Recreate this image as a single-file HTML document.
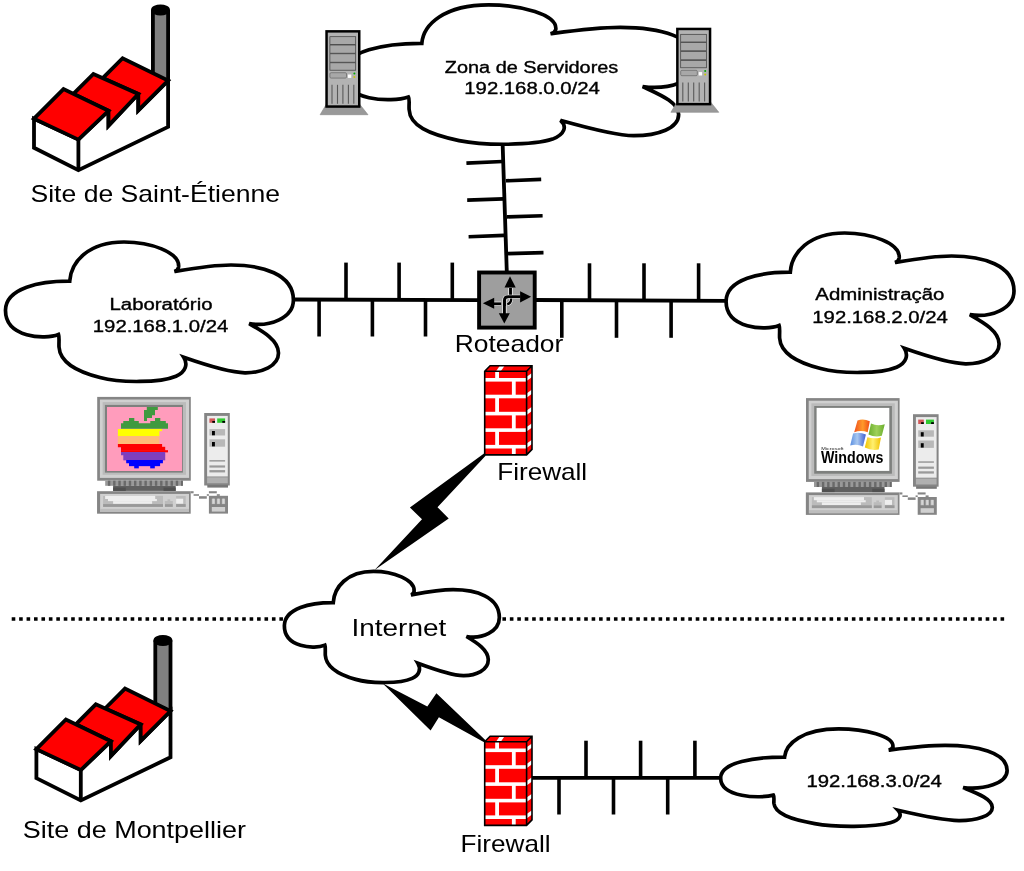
<!DOCTYPE html>
<html><head><meta charset="utf-8"><title>Network diagram</title><style>html,body{margin:0;padding:0;background:#fff;}svg{display:block;will-change:transform;}text{font-family:"Liberation Sans",sans-serif;}</style></head><body>
<svg width="1024" height="871" viewBox="0 0 1024 871" font-family="Liberation Sans, sans-serif">
<rect width="1024" height="871" fill="#fff"/>
<line x1="11.7" y1="619" x2="1005" y2="619" stroke="#000" stroke-width="3.6" stroke-dasharray="3.6 3.835"/>
<g stroke="#000" stroke-width="3.8" fill="none">
<line x1="292" y1="299.5" x2="479" y2="300.1"/>
<line x1="535" y1="300" x2="727" y2="300.8"/>
<line x1="502.5" y1="140" x2="506.8" y2="272"/>
<line x1="528" y1="777.8" x2="722" y2="777.8"/>
</g>
<g stroke="#000" stroke-width="3.6" fill="none">
<line x1="346" y1="262.6" x2="346" y2="299.6"/>
<line x1="399.1" y1="262.6" x2="399.1" y2="299.6"/>
<line x1="452.3" y1="262.6" x2="452.3" y2="299.6"/>
<line x1="319.1" y1="299.6" x2="319.1" y2="336.5"/>
<line x1="372.4" y1="299.6" x2="372.4" y2="336.5"/>
<line x1="425.5" y1="299.6" x2="425.5" y2="336.5"/>
<line x1="589.5" y1="263.3" x2="589.5" y2="300.5"/>
<line x1="644" y1="263.3" x2="644" y2="300.5"/>
<line x1="698.6" y1="263.3" x2="698.6" y2="300.5"/>
<line x1="561.8" y1="300" x2="561.8" y2="337.8"/>
<line x1="616.5" y1="300" x2="616.5" y2="337.8"/>
<line x1="671.1" y1="300" x2="671.1" y2="337.8"/>
<line x1="586" y1="740.7" x2="586" y2="777.8"/>
<line x1="640.6" y1="740.7" x2="640.6" y2="777.8"/>
<line x1="694.9" y1="740.7" x2="694.9" y2="777.8"/>
<line x1="559" y1="777.8" x2="559" y2="814.5"/>
<line x1="613.5" y1="777.8" x2="613.5" y2="814.5"/>
<line x1="667.7" y1="777.8" x2="667.7" y2="814.5"/>
<line x1="466.4" y1="163.1" x2="502.5" y2="161.5"/>
<line x1="505.9" y1="180.8" x2="541.2" y2="179.4"/>
<line x1="467.2" y1="200.1" x2="503.4" y2="198.9"/>
<line x1="506.8" y1="216.9" x2="542.6" y2="215.7"/>
<line x1="468.6" y1="236.7" x2="504.2" y2="235.4"/>
<line x1="507.7" y1="253.6" x2="543.5" y2="252.6"/>
</g>
<path d="M 421.83 43.28 C 423.43 24.46 444.34 4.86 488.62 4.86 C 520.60 4.86 557.50 14.66 555.78 29.36 C 555.04 32.30 552.58 33.28 550.49 33.77 C 575.95 30.34 596.86 27.40 620.23 27.40 C 658.36 27.40 696.98 36.22 696.98 62.68 C 696.98 81.30 668.20 90.12 642.62 86.59 C 658.36 94.04 678.65 101.88 678.65 114.62 C 678.65 128.34 658.36 135.69 633.76 135.69 C 614.08 135.49 582.10 126.38 560.45 120.30 C 567.34 126.38 564.88 134.22 552.58 139.12 C 532.90 145.69 483.70 145.69 459.10 140.59 C 428.35 134.22 409.90 125.40 409.16 109.72 C 408.67 104.82 409.90 99.43 408.42 96.98 C 391.45 102.86 342.25 100.90 342.87 73.46 C 343.48 50.92 385.30 43.08 421.83 43.28 Z" fill="#fff" stroke="#000" stroke-width="3.7"/>
<path d="M 69.70 281.20 C 71.00 262.00 88.00 242.00 124.00 242.00 C 150.00 242.00 180.00 252.00 178.60 267.00 C 178.00 270.00 176.00 271.00 174.30 271.50 C 195.00 268.00 212.00 265.00 231.00 265.00 C 262.00 265.00 293.40 274.00 293.40 300.00 C 293.40 318.00 270.00 327.00 249.20 323.70 C 262.00 331.00 278.50 340.00 278.50 353.00 C 278.50 366.00 262.00 373.00 244.90 372.80 C 228.00 372.60 200.00 363.00 183.70 357.30 C 188.00 364.00 186.00 372.00 176.00 376.20 C 160.00 383.00 120.00 383.00 100.00 377.50 C 75.00 371.00 60.00 362.00 59.00 347.00 C 58.80 342.00 59.50 337.00 58.50 334.50 C 45.00 340.00 5.00 338.00 5.50 310.00 C 6.00 288.00 40.00 281.00 69.70 281.20 Z" fill="#fff" stroke="#000" stroke-width="3.7"/>
<path d="M 790.30 272.20 C 791.60 253.00 808.60 233.00 844.60 233.00 C 870.60 233.00 900.60 243.00 899.20 258.00 C 898.60 261.00 896.60 262.00 894.90 262.50 C 915.60 259.00 932.60 256.00 951.60 256.00 C 982.60 256.00 1014.00 265.00 1014.00 291.00 C 1014.00 309.00 990.60 318.00 969.80 314.70 C 982.60 322.00 999.10 331.00 999.10 344.00 C 999.10 357.00 982.60 364.00 965.50 363.80 C 948.60 363.60 920.60 354.00 904.30 348.30 C 908.60 355.00 906.60 363.00 896.60 367.20 C 880.60 374.00 840.60 374.00 820.60 368.50 C 795.60 362.00 780.60 353.00 779.60 338.00 C 779.40 333.00 780.10 328.00 779.10 325.50 C 765.60 331.00 725.60 329.00 726.10 301.00 C 726.60 279.00 760.60 272.00 790.30 272.20 Z" fill="#fff" stroke="#000" stroke-width="3.7"/>
<path d="M 333.25 602.62 C 334.22 587.31 346.84 571.37 373.57 571.37 C 392.88 571.37 415.15 579.34 414.11 591.30 C 413.67 593.69 412.18 594.49 410.92 594.89 C 426.29 592.10 438.91 589.71 453.02 589.71 C 476.04 589.71 499.35 596.88 499.35 617.60 C 499.35 631.95 481.98 639.12 466.53 636.49 C 476.04 642.31 488.29 649.48 488.29 659.84 C 488.29 670.20 476.04 675.78 463.34 675.62 C 450.79 675.46 430.00 667.81 417.90 663.27 C 421.09 668.61 419.61 674.98 412.18 678.33 C 400.30 683.75 370.60 683.75 355.75 679.37 C 337.19 674.19 326.05 667.01 325.29 655.06 C 325.13 651.07 325.67 647.09 324.90 645.10 C 314.58 649.48 283.99 647.89 284.37 625.57 C 284.75 608.04 310.75 602.46 333.25 602.62 Z" fill="#fff" stroke="#000" stroke-width="3.7"/>
<path d="M 784.55 757.08 C 785.85 743.28 802.76 728.90 838.58 728.90 C 864.45 728.90 894.30 736.09 892.91 746.87 C 892.31 749.03 890.32 749.75 888.63 750.11 C 909.23 747.59 926.14 745.43 945.05 745.43 C 975.89 745.43 1007.13 751.91 1007.13 770.60 C 1007.13 783.54 983.85 790.01 963.15 787.64 C 975.89 792.83 992.31 798.80 992.31 807.42 C 992.31 816.04 975.89 820.68 958.88 820.54 C 942.06 820.41 914.20 814.05 897.98 810.27 C 902.26 814.71 900.27 820.01 890.32 822.80 C 874.40 827.30 834.60 827.30 814.70 823.66 C 789.83 819.35 774.90 813.38 773.91 803.44 C 773.71 800.13 774.40 796.81 773.41 795.15 C 759.98 798.80 720.18 797.47 720.67 777.79 C 721.17 761.97 755.00 756.94 784.55 757.08 Z" fill="#fff" stroke="#000" stroke-width="3.7"/>
<g transform="translate(0,0)">
<polygon points="326.6,103.8 359.3,103.8 368,114.7 320.1,114.7" fill="#999" stroke="#888" stroke-width="0.6"/>
<rect x="325.3" y="30.1" width="35.2" height="77.7" fill="#000"/>
<rect x="327.8" y="32.6" width="30.2" height="72.7" fill="#b3b3b3"/>
<rect x="329.9" y="36.699999999999996" width="25.8" height="7.700000000000005" fill="#a8a8a8" stroke="#3a3a3a" stroke-width="0.7"/>
<rect x="329.9" y="45.0" width="25.8" height="8.199999999999998" fill="#a8a8a8" stroke="#3a3a3a" stroke-width="0.7"/>
<rect x="329.9" y="53.8" width="25.8" height="8.4" fill="#a8a8a8" stroke="#3a3a3a" stroke-width="0.7"/>
<rect x="329.9" y="62.8" width="25.8" height="7.4" fill="#a8a8a8" stroke="#3a3a3a" stroke-width="0.7"/>
<rect x="329.9" y="72.7" width="16.6" height="5.4" rx="1.2" fill="#a8a8a8" stroke="#666" stroke-width="0.7"/>
<rect x="347.9" y="74.5" width="3.4" height="3.4" fill="#fff"/>
<circle cx="354.4" cy="73.4" r="1" fill="#0a0"/>
<circle cx="354.4" cy="77" r="1" fill="#cc0"/>
<line x1="332" y1="84.8" x2="332" y2="103.8" stroke="#5a5a5a" stroke-width="1.1"/>
<line x1="337.5" y1="84.8" x2="337.5" y2="103.8" stroke="#5a5a5a" stroke-width="1.1"/>
<line x1="342.9" y1="84.8" x2="342.9" y2="103.8" stroke="#5a5a5a" stroke-width="1.1"/>
<line x1="348.4" y1="84.8" x2="348.4" y2="103.8" stroke="#5a5a5a" stroke-width="1.1"/>
<line x1="353.8" y1="84.8" x2="353.8" y2="103.8" stroke="#5a5a5a" stroke-width="1.1"/>
</g>
<g transform="translate(350.8,-2.4)">
<polygon points="326.6,103.8 359.3,103.8 368,114.7 320.1,114.7" fill="#999" stroke="#888" stroke-width="0.6"/>
<rect x="325.3" y="30.1" width="35.2" height="77.7" fill="#000"/>
<rect x="327.8" y="32.6" width="30.2" height="72.7" fill="#b3b3b3"/>
<rect x="329.9" y="36.699999999999996" width="25.8" height="7.700000000000005" fill="#a8a8a8" stroke="#3a3a3a" stroke-width="0.7"/>
<rect x="329.9" y="45.0" width="25.8" height="8.199999999999998" fill="#a8a8a8" stroke="#3a3a3a" stroke-width="0.7"/>
<rect x="329.9" y="53.8" width="25.8" height="8.4" fill="#a8a8a8" stroke="#3a3a3a" stroke-width="0.7"/>
<rect x="329.9" y="62.8" width="25.8" height="7.4" fill="#a8a8a8" stroke="#3a3a3a" stroke-width="0.7"/>
<rect x="329.9" y="72.7" width="16.6" height="5.4" rx="1.2" fill="#a8a8a8" stroke="#666" stroke-width="0.7"/>
<rect x="347.9" y="74.5" width="3.4" height="3.4" fill="#fff"/>
<circle cx="354.4" cy="73.4" r="1" fill="#0a0"/>
<circle cx="354.4" cy="77" r="1" fill="#cc0"/>
<line x1="332" y1="84.8" x2="332" y2="103.8" stroke="#5a5a5a" stroke-width="1.1"/>
<line x1="337.5" y1="84.8" x2="337.5" y2="103.8" stroke="#5a5a5a" stroke-width="1.1"/>
<line x1="342.9" y1="84.8" x2="342.9" y2="103.8" stroke="#5a5a5a" stroke-width="1.1"/>
<line x1="348.4" y1="84.8" x2="348.4" y2="103.8" stroke="#5a5a5a" stroke-width="1.1"/>
<line x1="353.8" y1="84.8" x2="353.8" y2="103.8" stroke="#5a5a5a" stroke-width="1.1"/>
</g>
<rect x="479.1" y="272.5" width="55.6" height="55.1" fill="#9e9e9e" stroke="#000" stroke-width="3.9"/>
<g fill="none" stroke-linecap="butt" stroke-linejoin="round">
<path d="M510.5,288 V297" stroke="#fff" stroke-width="4.2"/>
<path d="M510.5,288 V297" stroke="#000" stroke-width="2.9"/>
<path d="M494,303.8 H501.2" stroke="#fff" stroke-width="4.2"/>
<path d="M494,303.8 H501.2" stroke="#000" stroke-width="2.9"/>
<path d="M520.5,296.8 H508.3 Q504.4,296.8 504.4,300.7 V314" stroke="#fff" stroke-width="4.2"/>
<path d="M520.5,296.8 H508.3 Q504.4,296.8 504.4,300.7 V314" stroke="#000" stroke-width="2.9"/>
<path d="M511.3,298.4 Q511.4,303.4 507.2,304.2" stroke="#fff" stroke-width="3.4"/>
<path d="M511.3,298.4 Q511.4,303.4 507.2,304.2" stroke="#000" stroke-width="2.2"/>
<path d="M504.4,300 V306" stroke="#000" stroke-width="2.9"/>
</g>
<polygon points="510,276.3 515.7,287.6 504.5,287.6" fill="#000"/>
<polygon points="531.1,296.7 520.1,291.2 520.1,302.4" fill="#000"/>
<polygon points="482.9,303.2 494.2,297.7 494.2,308.7" fill="#000"/>
<polygon points="504.3,323.4 498.8,313.3 509.8,313.3" fill="#000"/>
<polygon points="484,453.6 485.6,455.8 437.5,507.2 448.7,518.4 374.6,570 422,519.2 409.9,507.5" fill="#000"/>
<polygon points="382.5,683.3 427.3,706.5 436.4,693.2 485.5,740.2 484.6,742.5 438.9,717.3 430.6,730.6" fill="#000"/>
<g transform="translate(0,0)">
<polygon points="484.7,371.3 490.09999999999997,365.8 532.0,365.8 526.6,371.3" fill="#f00"/>
<polygon points="496.0,371.3 499.8,365.8 504.59999999999997,365.8 500.8,371.3" fill="#fff"/>
<polygon points="526.6,371.3 532.0,365.8 532.0,449.4 526.6,454.9" fill="#f00"/>
<polygon points="526.6,376.7 532.0,372.90000000000003 532.0,377.1 526.6,381.1" fill="#fff"/>
<polygon points="526.6,393.4 532.0,389.6 532.0,393.8 526.6,397.8" fill="#fff"/>
<polygon points="526.6,410.5 532.0,406.70000000000005 532.0,410.90000000000003 526.6,414.90000000000003" fill="#fff"/>
<polygon points="526.6,427.0 532.0,423.20000000000005 532.0,427.40000000000003 526.6,431.40000000000003" fill="#fff"/>
<polygon points="526.6,443.59999999999997 532.0,439.8 532.0,444.0 526.6,448.0" fill="#fff"/>
<rect x="484.7" y="371.3" width="41.900000000000034" height="83.59999999999997" fill="#f00"/>
<rect x="484.7" y="378.0" width="41.900000000000034" height="3.6" fill="#fff"/>
<rect x="484.7" y="394.7" width="41.900000000000034" height="3.6" fill="#fff"/>
<rect x="484.7" y="411.8" width="41.900000000000034" height="3.6" fill="#fff"/>
<rect x="484.7" y="428.3" width="41.900000000000034" height="3.6" fill="#fff"/>
<rect x="484.7" y="444.9" width="41.900000000000034" height="3.6" fill="#fff"/>
<rect x="495.20000000000005" y="371.3" width="3.8" height="8.5" fill="#fff"/>
<rect x="511.9" y="379.8" width="3.8" height="16.69999999999999" fill="#fff"/>
<rect x="495.20000000000005" y="396.5" width="3.8" height="17.100000000000023" fill="#fff"/>
<rect x="511.9" y="413.6" width="3.8" height="16.5" fill="#fff"/>
<rect x="495.20000000000005" y="430.1" width="3.8" height="16.599999999999966" fill="#fff"/>
<rect x="511.9" y="446.7" width="3.8" height="8.199999999999989" fill="#fff"/>
<path d="M484.7,371.3 L490.09999999999997,365.8 L532.0,365.8 L532.0,449.4 L526.6,454.9 L484.7,454.9 Z M484.7,371.3 L526.6,371.3 L526.6,454.9 M526.6,371.3 L532.0,365.8" fill="none" stroke="#000" stroke-width="1.6" stroke-linejoin="miter"/>
</g>
<g transform="translate(0,370.5)">
<polygon points="484.7,371.3 490.09999999999997,365.8 532.0,365.8 526.6,371.3" fill="#f00"/>
<polygon points="496.0,371.3 499.8,365.8 504.59999999999997,365.8 500.8,371.3" fill="#fff"/>
<polygon points="526.6,371.3 532.0,365.8 532.0,449.4 526.6,454.9" fill="#f00"/>
<polygon points="526.6,376.7 532.0,372.90000000000003 532.0,377.1 526.6,381.1" fill="#fff"/>
<polygon points="526.6,393.4 532.0,389.6 532.0,393.8 526.6,397.8" fill="#fff"/>
<polygon points="526.6,410.5 532.0,406.70000000000005 532.0,410.90000000000003 526.6,414.90000000000003" fill="#fff"/>
<polygon points="526.6,427.0 532.0,423.20000000000005 532.0,427.40000000000003 526.6,431.40000000000003" fill="#fff"/>
<polygon points="526.6,443.59999999999997 532.0,439.8 532.0,444.0 526.6,448.0" fill="#fff"/>
<rect x="484.7" y="371.3" width="41.900000000000034" height="83.59999999999997" fill="#f00"/>
<rect x="484.7" y="378.0" width="41.900000000000034" height="3.6" fill="#fff"/>
<rect x="484.7" y="394.7" width="41.900000000000034" height="3.6" fill="#fff"/>
<rect x="484.7" y="411.8" width="41.900000000000034" height="3.6" fill="#fff"/>
<rect x="484.7" y="428.3" width="41.900000000000034" height="3.6" fill="#fff"/>
<rect x="484.7" y="444.9" width="41.900000000000034" height="3.6" fill="#fff"/>
<rect x="495.20000000000005" y="371.3" width="3.8" height="8.5" fill="#fff"/>
<rect x="511.9" y="379.8" width="3.8" height="16.69999999999999" fill="#fff"/>
<rect x="495.20000000000005" y="396.5" width="3.8" height="17.100000000000023" fill="#fff"/>
<rect x="511.9" y="413.6" width="3.8" height="16.5" fill="#fff"/>
<rect x="495.20000000000005" y="430.1" width="3.8" height="16.599999999999966" fill="#fff"/>
<rect x="511.9" y="446.7" width="3.8" height="8.199999999999989" fill="#fff"/>
<path d="M484.7,371.3 L490.09999999999997,365.8 L532.0,365.8 L532.0,449.4 L526.6,454.9 L484.7,454.9 Z M484.7,371.3 L526.6,371.3 L526.6,454.9 M526.6,371.3 L532.0,365.8" fill="none" stroke="#000" stroke-width="1.6" stroke-linejoin="miter"/>
</g>
<g transform="translate(0,0)" stroke="#000" stroke-width="3.8" stroke-linejoin="miter" stroke-miterlimit="10">
<rect x="152.9" y="10" width="15.2" height="68" fill="#808080" stroke="none"/>
<line x1="152.9" y1="10" x2="152.9" y2="78"/>
<line x1="168.1" y1="10" x2="168.1" y2="80"/>
<ellipse cx="160.5" cy="10" rx="7.6" ry="3.6" fill="#000"/>
<polygon points="34,118.7 34,147.8 78.4,170.1 168.1,126.9 168.1,80.6 138.3,110.4 138.3,94 108.5,125.6 108.5,110.8 78.4,139.6" fill="#fff"/>
<polygon points="102.7,78.1 122.6,58.2 168.1,80.6 138.3,110.4 138.3,94" fill="#f00"/>
<polygon points="73.4,93.9 93.4,73.9 138.3,94 108.5,125.6 108.5,110.8" fill="#f00"/>
<polygon points="34,118.7 63.5,89.1 108.5,110.8 78.4,139.6" fill="#f00"/>
<line x1="78.4" y1="139.6" x2="78.4" y2="170.1"/>
</g>
<g transform="translate(2.4,630.4)" stroke="#000" stroke-width="3.8" stroke-linejoin="miter" stroke-miterlimit="10">
<rect x="152.9" y="10" width="15.2" height="68" fill="#808080" stroke="none"/>
<line x1="152.9" y1="10" x2="152.9" y2="78"/>
<line x1="168.1" y1="10" x2="168.1" y2="80"/>
<ellipse cx="160.5" cy="10" rx="7.6" ry="3.6" fill="#000"/>
<polygon points="34,118.7 34,147.8 78.4,170.1 168.1,126.9 168.1,80.6 138.3,110.4 138.3,94 108.5,125.6 108.5,110.8 78.4,139.6" fill="#fff"/>
<polygon points="102.7,78.1 122.6,58.2 168.1,80.6 138.3,110.4 138.3,94" fill="#f00"/>
<polygon points="73.4,93.9 93.4,73.9 138.3,94 108.5,125.6 108.5,110.8" fill="#f00"/>
<polygon points="34,118.7 63.5,89.1 108.5,110.8 78.4,139.6" fill="#f00"/>
<line x1="78.4" y1="139.6" x2="78.4" y2="170.1"/>
</g>
<g transform="translate(0,0)">
<rect x="97.2" y="396.9" width="93.6" height="83.8" fill="#858585"/>
<rect x="99.9" y="399.5" width="89.2" height="78.4" fill="#d0d0d0"/>
<rect x="102.6" y="402.1" width="83.4" height="72.7" fill="#bbbbbb"/>
<rect x="104.9" y="404.9" width="78.0" height="67.7" fill="#7e807e"/>
<rect x="107.0" y="407.0" width="75.05" height="64.0" fill="#ff9cbc"/>
<polygon points="146.8,407 157.8,407 157.8,410.1 155,410.1 155,415.2 152,415.2 152,418 147,418 147,421 144,421 144,410 146.8,410" fill="#3f9a3f"/>
<polygon points="121,428.8 121,423.2 123.3,423.2 123.3,420.9 129,420.9 129,418 134.3,418 134.3,420.9 138.8,420.9 138.8,423.2 150.3,423.2 150.3,420.9 155,420.9 155,418 160.3,418 160.3,420.9 165.8,420.9 165.8,423.2 168,423.2 168,428.8" fill="#3f9a3f"/>
<rect x="117.9" y="429" width="44.2" height="2.15" fill="#ff0"/>
<rect x="117.9" y="430.7" width="41.5" height="5.65" fill="#ff0"/>
<rect x="117.9" y="436" width="41.5" height="8.35" fill="#ffbb77"/>
<rect x="117.9" y="444" width="44.2" height="3.25" fill="#f00"/>
<rect x="121" y="446.8" width="44.2" height="3.85" fill="#f00"/>
<rect x="121" y="450.2" width="47" height="2.15" fill="#f00"/>
<rect x="121" y="452" width="44.2" height="3.25" fill="#7f3fbf"/>
<rect x="123.3" y="454.8" width="41.9" height="5.55" fill="#7f3fbf"/>
<rect x="126.2" y="460" width="36.7" height="3.25" fill="#00f"/>
<rect x="129" y="462.9" width="31.1" height="3.25" fill="#00f"/>
<rect x="134.2" y="465.7" width="4.6" height="2.65" fill="#00f"/>
<rect x="150.2" y="465.7" width="4.6" height="2.65" fill="#00f"/>
<rect x="105.2" y="480.7" width="77.7" height="5.1" fill="#999999"/>
<rect x="107.9" y="480.7" width="2.4" height="5.1" fill="#6a6a6a"/>
<rect x="113.12" y="480.7" width="2.4" height="5.1" fill="#6a6a6a"/>
<rect x="118.34" y="480.7" width="2.4" height="5.1" fill="#6a6a6a"/>
<rect x="123.56" y="480.7" width="2.4" height="5.1" fill="#6a6a6a"/>
<rect x="128.78" y="480.7" width="2.4" height="5.1" fill="#6a6a6a"/>
<rect x="134.0" y="480.7" width="2.4" height="5.1" fill="#6a6a6a"/>
<rect x="139.22" y="480.7" width="2.4" height="5.1" fill="#6a6a6a"/>
<rect x="144.44" y="480.7" width="2.4" height="5.1" fill="#6a6a6a"/>
<rect x="149.66" y="480.7" width="2.4" height="5.1" fill="#6a6a6a"/>
<rect x="154.88" y="480.7" width="2.4" height="5.1" fill="#6a6a6a"/>
<rect x="160.1" y="480.7" width="2.4" height="5.1" fill="#6a6a6a"/>
<rect x="165.32" y="480.7" width="2.4" height="5.1" fill="#6a6a6a"/>
<rect x="170.54000000000002" y="480.7" width="2.4" height="5.1" fill="#6a6a6a"/>
<rect x="175.76" y="480.7" width="2.4" height="5.1" fill="#6a6a6a"/>
<rect x="180.98000000000002" y="480.7" width="1.92" height="5.1" fill="#6a6a6a"/>
<rect x="113.1" y="485.8" width="62.6" height="5.1" fill="#606060"/>
<rect x="113.1" y="487.5" width="12.7" height="3.4" fill="#505050"/>
<rect x="163.5" y="487.5" width="12.2" height="3.4" fill="#505050"/>
<rect x="97.05" y="491.2" width="93.65" height="22.5" fill="#858585"/>
<rect x="100.1" y="493.9" width="88.9" height="18.1" fill="#d0d0d0"/>
<rect x="100.1" y="508.9" width="88.9" height="3.1" fill="#bdbdbd"/>
<rect x="103.1" y="495.9" width="59.9" height="11.0" fill="#bbbbbb"/>
<rect x="105.1" y="495.9" width="50.1" height="3.1" fill="#eeeeee"/>
<rect x="108.0" y="499.0" width="48.9" height="2.1" fill="#eeeeee"/>
<rect x="113.1" y="501.1" width="39.0" height="2.7" fill="#eeeeee"/>
<rect x="103.1" y="504.1" width="59.9" height="2.8" fill="#999999"/>
<rect x="164.9" y="501.0" width="7.9" height="3.1" fill="#bbbbbb"/>
<rect x="167.5" y="499.3" width="2.7" height="1.7" fill="#bbbbbb"/>
<rect x="164.9" y="504.1" width="7.9" height="2.8" fill="#999999"/>
<rect x="176.1" y="496.0" width="9.6" height="10.9" fill="#bbbbbb"/>
<rect x="176.1" y="498.7" width="7.1" height="5.0" fill="#eeeeee"/>
<rect x="176.1" y="504.1" width="9.6" height="2.8" fill="#999999"/>
<rect x="190.7" y="491.2" width="2.9" height="2.1" fill="#858585"/>
<rect x="193.6" y="494.2" width="5.4" height="1.6" fill="#858585"/>
<rect x="199.0" y="496.2" width="7.8" height="2.5" fill="#858585"/>
<rect x="206.8" y="494.2" width="2.1" height="1.6" fill="#858585"/>
<rect x="208.9" y="491.2" width="7.9" height="2.1" fill="#858585"/>
<rect x="216.8" y="494.2" width="3.0" height="1.7" fill="#858585"/>
<rect x="204.2" y="413.0" width="25.6" height="72.5" fill="#858585"/>
<rect x="207.1" y="415.9" width="20.7" height="60.6" fill="#ececec"/>
<rect x="209.4" y="418.4" width="5.6" height="4.4" fill="#d05858"/>
<rect x="217.2" y="418.4" width="7.9" height="4.4" fill="#30c830"/>
<rect x="212.3" y="421.0" width="2.7" height="1.8" fill="#000"/>
<rect x="222.3" y="421.0" width="2.8" height="1.8" fill="#000"/>
<rect x="209.4" y="429.1" width="15.7" height="6.4" fill="#b8b8b8"/>
<rect x="209.4" y="439.3" width="15.7" height="7.4" fill="#b8b8b8"/>
<rect x="212.0" y="431.0" width="2.9" height="4.3" fill="#000"/>
<rect x="212.0" y="442.0" width="2.9" height="4.4" fill="#000"/>
<rect x="209.4" y="460.1" width="15.7" height="1.5" fill="#9a9a9a"/>
<rect x="209.4" y="465.4" width="15.7" height="2.2" fill="#9a9a9a"/>
<rect x="209.4" y="470.1" width="15.7" height="2.3" fill="#9a9a9a"/>
<rect x="207.1" y="477.3" width="20.7" height="6.0" fill="#b0b0b0"/>
<rect x="207.3" y="485.0" width="20.7" height="2.6" fill="#777777"/>
<rect x="208.9" y="495.8" width="19.1" height="17.8" fill="#858585"/>
<rect x="211.8" y="498.7" width="3.3" height="5.4" fill="#bdbdbd"/>
<rect x="212.5" y="498.7" width="1.9" height="4.9" fill="#d6d6d6"/>
<rect x="216.8" y="498.7" width="3.3" height="5.4" fill="#bdbdbd"/>
<rect x="217.5" y="498.7" width="1.9" height="4.9" fill="#d6d6d6"/>
<rect x="221.8" y="498.7" width="3.3" height="5.4" fill="#bdbdbd"/>
<rect x="222.5" y="498.7" width="1.9" height="4.9" fill="#d6d6d6"/>
<rect x="211.8" y="507.0" width="13.3" height="4.6" fill="#d0d0d0"/>
</g>
<g transform="translate(708.8,1.2)">
<rect x="97.2" y="396.9" width="93.6" height="83.8" fill="#858585"/>
<rect x="99.9" y="399.5" width="89.2" height="78.4" fill="#d0d0d0"/>
<rect x="102.6" y="402.1" width="83.4" height="72.7" fill="#bbbbbb"/>
<rect x="105.4" y="404.8" width="77.7" height="67.7" fill="#7e807e"/>
<rect x="107.8" y="406.7" width="72.7" height="63.0" fill="#ffffff"/>
<rect x="105.2" y="480.7" width="77.7" height="5.1" fill="#999999"/>
<rect x="107.9" y="480.7" width="2.4" height="5.1" fill="#6a6a6a"/>
<rect x="113.12" y="480.7" width="2.4" height="5.1" fill="#6a6a6a"/>
<rect x="118.34" y="480.7" width="2.4" height="5.1" fill="#6a6a6a"/>
<rect x="123.56" y="480.7" width="2.4" height="5.1" fill="#6a6a6a"/>
<rect x="128.78" y="480.7" width="2.4" height="5.1" fill="#6a6a6a"/>
<rect x="134.0" y="480.7" width="2.4" height="5.1" fill="#6a6a6a"/>
<rect x="139.22" y="480.7" width="2.4" height="5.1" fill="#6a6a6a"/>
<rect x="144.44" y="480.7" width="2.4" height="5.1" fill="#6a6a6a"/>
<rect x="149.66" y="480.7" width="2.4" height="5.1" fill="#6a6a6a"/>
<rect x="154.88" y="480.7" width="2.4" height="5.1" fill="#6a6a6a"/>
<rect x="160.1" y="480.7" width="2.4" height="5.1" fill="#6a6a6a"/>
<rect x="165.32" y="480.7" width="2.4" height="5.1" fill="#6a6a6a"/>
<rect x="170.54000000000002" y="480.7" width="2.4" height="5.1" fill="#6a6a6a"/>
<rect x="175.76" y="480.7" width="2.4" height="5.1" fill="#6a6a6a"/>
<rect x="180.98000000000002" y="480.7" width="1.92" height="5.1" fill="#6a6a6a"/>
<rect x="113.1" y="485.8" width="62.6" height="5.1" fill="#606060"/>
<rect x="113.1" y="487.5" width="12.7" height="3.4" fill="#505050"/>
<rect x="163.5" y="487.5" width="12.2" height="3.4" fill="#505050"/>
<rect x="97.05" y="491.2" width="93.65" height="22.5" fill="#858585"/>
<rect x="100.1" y="493.9" width="88.9" height="18.1" fill="#d0d0d0"/>
<rect x="100.1" y="508.9" width="88.9" height="3.1" fill="#bdbdbd"/>
<rect x="103.1" y="495.9" width="59.9" height="11.0" fill="#bbbbbb"/>
<rect x="105.1" y="495.9" width="50.1" height="3.1" fill="#eeeeee"/>
<rect x="108.0" y="499.0" width="48.9" height="2.1" fill="#eeeeee"/>
<rect x="113.1" y="501.1" width="39.0" height="2.7" fill="#eeeeee"/>
<rect x="103.1" y="504.1" width="59.9" height="2.8" fill="#999999"/>
<rect x="164.9" y="501.0" width="7.9" height="3.1" fill="#bbbbbb"/>
<rect x="167.5" y="499.3" width="2.7" height="1.7" fill="#bbbbbb"/>
<rect x="164.9" y="504.1" width="7.9" height="2.8" fill="#999999"/>
<rect x="176.1" y="496.0" width="9.6" height="10.9" fill="#bbbbbb"/>
<rect x="176.1" y="498.7" width="7.1" height="5.0" fill="#eeeeee"/>
<rect x="176.1" y="504.1" width="9.6" height="2.8" fill="#999999"/>
<rect x="190.7" y="491.2" width="2.9" height="2.1" fill="#858585"/>
<rect x="193.6" y="494.2" width="5.4" height="1.6" fill="#858585"/>
<rect x="199.0" y="496.2" width="7.8" height="2.5" fill="#858585"/>
<rect x="206.8" y="494.2" width="2.1" height="1.6" fill="#858585"/>
<rect x="208.9" y="491.2" width="7.9" height="2.1" fill="#858585"/>
<rect x="216.8" y="494.2" width="3.0" height="1.7" fill="#858585"/>
<rect x="204.2" y="413.0" width="25.6" height="72.5" fill="#858585"/>
<rect x="207.1" y="415.9" width="20.7" height="60.6" fill="#ececec"/>
<rect x="209.4" y="418.4" width="5.6" height="4.4" fill="#d05858"/>
<rect x="217.2" y="418.4" width="7.9" height="4.4" fill="#30c830"/>
<rect x="212.3" y="421.0" width="2.7" height="1.8" fill="#000"/>
<rect x="222.3" y="421.0" width="2.8" height="1.8" fill="#000"/>
<rect x="209.4" y="429.1" width="15.7" height="6.4" fill="#b8b8b8"/>
<rect x="209.4" y="439.3" width="15.7" height="7.4" fill="#b8b8b8"/>
<rect x="212.0" y="431.0" width="2.9" height="4.3" fill="#000"/>
<rect x="212.0" y="442.0" width="2.9" height="4.4" fill="#000"/>
<rect x="209.4" y="460.1" width="15.7" height="1.5" fill="#9a9a9a"/>
<rect x="209.4" y="465.4" width="15.7" height="2.2" fill="#9a9a9a"/>
<rect x="209.4" y="470.1" width="15.7" height="2.3" fill="#9a9a9a"/>
<rect x="207.1" y="477.3" width="20.7" height="6.0" fill="#b0b0b0"/>
<rect x="207.3" y="485.0" width="20.7" height="2.6" fill="#777777"/>
<rect x="208.9" y="495.8" width="19.1" height="17.8" fill="#858585"/>
<rect x="211.8" y="498.7" width="3.3" height="5.4" fill="#bdbdbd"/>
<rect x="212.5" y="498.7" width="1.9" height="4.9" fill="#d6d6d6"/>
<rect x="216.8" y="498.7" width="3.3" height="5.4" fill="#bdbdbd"/>
<rect x="217.5" y="498.7" width="1.9" height="4.9" fill="#d6d6d6"/>
<rect x="221.8" y="498.7" width="3.3" height="5.4" fill="#bdbdbd"/>
<rect x="222.5" y="498.7" width="1.9" height="4.9" fill="#d6d6d6"/>
<rect x="211.8" y="507.0" width="13.3" height="4.6" fill="#d0d0d0"/>
</g>
<defs><linearGradient id="wo" x1="0" x2="1" y1="0" y2="0"><stop offset="0" stop-color="#f0501e"/><stop offset="0.55" stop-color="#ff9a2a"/><stop offset="1" stop-color="#f04a14"/></linearGradient><linearGradient id="wg" x1="0" x2="1" y1="0" y2="0"><stop offset="0" stop-color="#6aae2e"/><stop offset="0.5" stop-color="#9ed05a"/><stop offset="1" stop-color="#6aae2e"/></linearGradient><linearGradient id="wb" x1="0" x2="1" y1="0" y2="0"><stop offset="0" stop-color="#5a8ee0"/><stop offset="0.45" stop-color="#a8c8f0"/><stop offset="1" stop-color="#3e5fd0"/></linearGradient><linearGradient id="wy" x1="0" x2="1" y1="0" y2="0"><stop offset="0" stop-color="#f2c200"/><stop offset="0.5" stop-color="#fff070"/><stop offset="1" stop-color="#f0c000"/></linearGradient></defs>
<path d="M857.5,420.6 Q863,418.2 869.8,421.2 L867.7,432.2 Q861,429.6 854.2,432.2 Z" fill="url(#wo)"/>
<path d="M871,423.6 Q877.5,426.6 884.8,424.2 L881.8,435.8 Q875,437.6 868.5,434.6 Z" fill="url(#wg)"/>
<path d="M853.1,433.6 Q859.5,431.6 865.9,434.6 L863,446.4 Q856.5,443.6 850.2,445.6 Z" fill="url(#wb)"/>
<path d="M867.4,437.2 Q874,439.4 881,437.4 L878.7,449.6 Q871.5,451 864.8,447.6 Z" fill="url(#wy)"/>
<text x="821.2" y="449.6" font-size="4.2" textLength="22.4" lengthAdjust="spacingAndGlyphs" fill="#222">Microsoft</text>
<text x="821" y="462.7" font-size="15.6" font-weight="bold" textLength="62.3" lengthAdjust="spacingAndGlyphs" fill="#000">Windows</text>
<g fill="#000">
<text x="30.5" y="201.6" font-size="24" textLength="249.5" lengthAdjust="spacingAndGlyphs">Site de Saint-&#201;tienne</text>
<text x="22.8" y="837.8" font-size="24" textLength="223.2" lengthAdjust="spacingAndGlyphs">Site de Montpellier</text>
<text x="454.8" y="351.7" font-size="24" textLength="108.5" lengthAdjust="spacingAndGlyphs">Roteador</text>
<text x="497.2" y="480.2" font-size="24" textLength="90" lengthAdjust="spacingAndGlyphs">Firewall</text>
<text x="460.6" y="851.6" font-size="24" textLength="90" lengthAdjust="spacingAndGlyphs">Firewall</text>
<text x="351.5" y="636.4" font-size="24" textLength="94.7" lengthAdjust="spacingAndGlyphs">Internet</text>
<text x="444.8" y="72.5" font-size="16" stroke="#000" stroke-width="0.35" textLength="173.5" lengthAdjust="spacingAndGlyphs">Zona de Servidores</text>
<text x="464.3" y="93.9" font-size="16" stroke="#000" stroke-width="0.35" textLength="135.5" lengthAdjust="spacingAndGlyphs">192.168.0.0/24</text>
<text x="109.5" y="309.7" font-size="16" stroke="#000" stroke-width="0.35" textLength="103" lengthAdjust="spacingAndGlyphs">Laborat&#243;rio</text>
<text x="92.8" y="332.2" font-size="16" stroke="#000" stroke-width="0.35" textLength="135.5" lengthAdjust="spacingAndGlyphs">192.168.1.0/24</text>
<text x="815.3" y="300.3" font-size="16" stroke="#000" stroke-width="0.35" textLength="129" lengthAdjust="spacingAndGlyphs">Administra&#231;&#227;o</text>
<text x="812.3" y="322.5" font-size="16" stroke="#000" stroke-width="0.35" textLength="135.5" lengthAdjust="spacingAndGlyphs">192.168.2.0/24</text>
<text x="806.4" y="786.6" font-size="16" stroke="#000" stroke-width="0.35" textLength="135.5" lengthAdjust="spacingAndGlyphs">192.168.3.0/24</text>
</g>
</svg>
</body></html>
